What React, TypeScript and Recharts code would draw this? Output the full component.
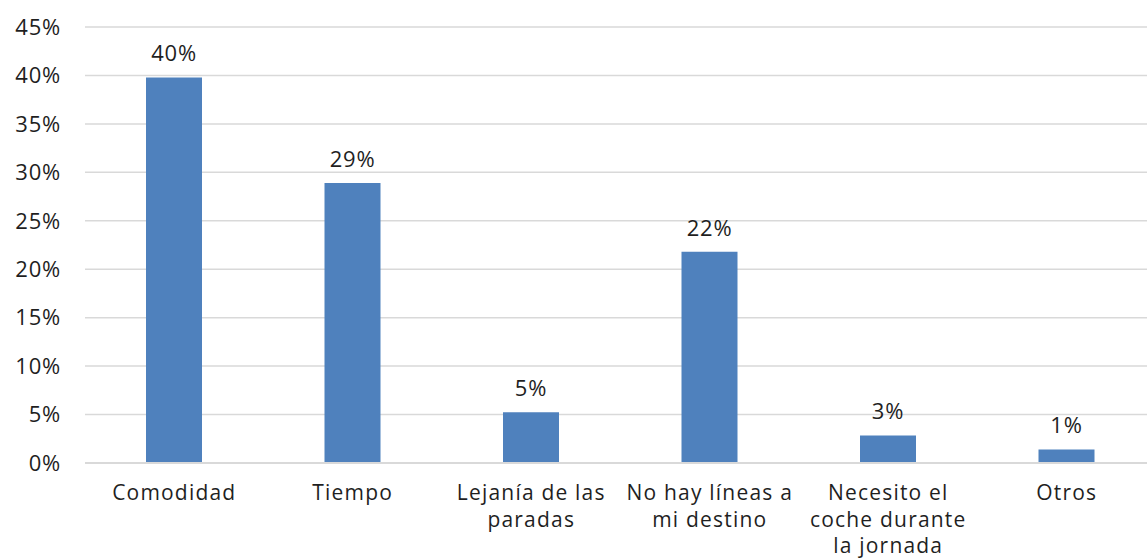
import React from "react";
import { BarChart, Bar, XAxis, YAxis, CartesianGrid, LabelList } from "recharts";

const categories = [
  "Comodidad",
  "Tiempo",
  "Lejanía de las paradas",
  "No hay líneas a mi destino",
  "Necesito el coche durante la jornada",
  "Otros",
];
const categoryLines = [
  ["Comodidad"],
  ["Tiempo"],
  ["Lejanía de las", "paradas"],
  ["No hay líneas a", "mi destino"],
  ["Necesito el", "coche durante", "la jornada"],
  ["Otros"],
];
const shares = [39.8, 28.9, 5.25, 21.8, 2.85, 1.4];
const yTicks = [0, 5, 10, 15, 20, 25, 30, 35, 40, 45];

const data = categories.map((name, i) => ({ name, value: shares[i] }));

const FONT = "'Open Sans', Lato, sans-serif";
const INK = "#1f1f1f";
const textStyle = { fill: INK, fontSize: 22, fontFamily: FONT, letterSpacing: 0.8 };
const catStyle = { fill: INK, fontSize: 21, fontFamily: FONT, letterSpacing: 1.2 };

function CategoryTick(props: any) {
  const { x, y, index } = props;
  const lines = categoryLines[index] ?? [categories[index]];
  return (
    <text x={x} y={y} textAnchor="middle" style={catStyle}>
      {lines.map((line, i) => (
        <tspan key={i} x={x} dy={i === 0 ? 29 : 26.5}>
          {line}
        </tspan>
      ))}
    </text>
  );
}

export default function App() {
  return (
    <div style={{ position: "absolute", left: 0, top: 0, width: 1147, height: 560, overflow: "hidden", background: "#fff" }}>
      <BarChart
        width={1156}
        height={560}
        data={data}
        margin={{ top: 27, right: 0, bottom: 0, left: 0 }}
        barSize={56}
      >
        <CartesianGrid vertical={false} stroke="#d9d9d9" strokeWidth={1.5} />
        <XAxis
          dataKey="name"
          height={97}
          tickLine={false}
          axisLine={{ stroke: "#d9d9d9", strokeWidth: 2 }}
          interval={0}
          tick={<CategoryTick />}
        />
        <YAxis
          width={85}
          domain={[0, 45]}
          ticks={yTicks}
          tickLine={false}
          axisLine={false}
          tickMargin={18}
          tickFormatter={(v: number) => `${v}%`}
          tick={textStyle}
        />
        <Bar dataKey="value" fill="#4f81bd" isAnimationActive={false}>
          <LabelList
            dataKey="value"
            position="top"
            offset={16}
            formatter={(v: any) => `${Math.round(Number(v))}%`}
            style={textStyle}
          />
        </Bar>
      </BarChart>
    </div>
  );
}
